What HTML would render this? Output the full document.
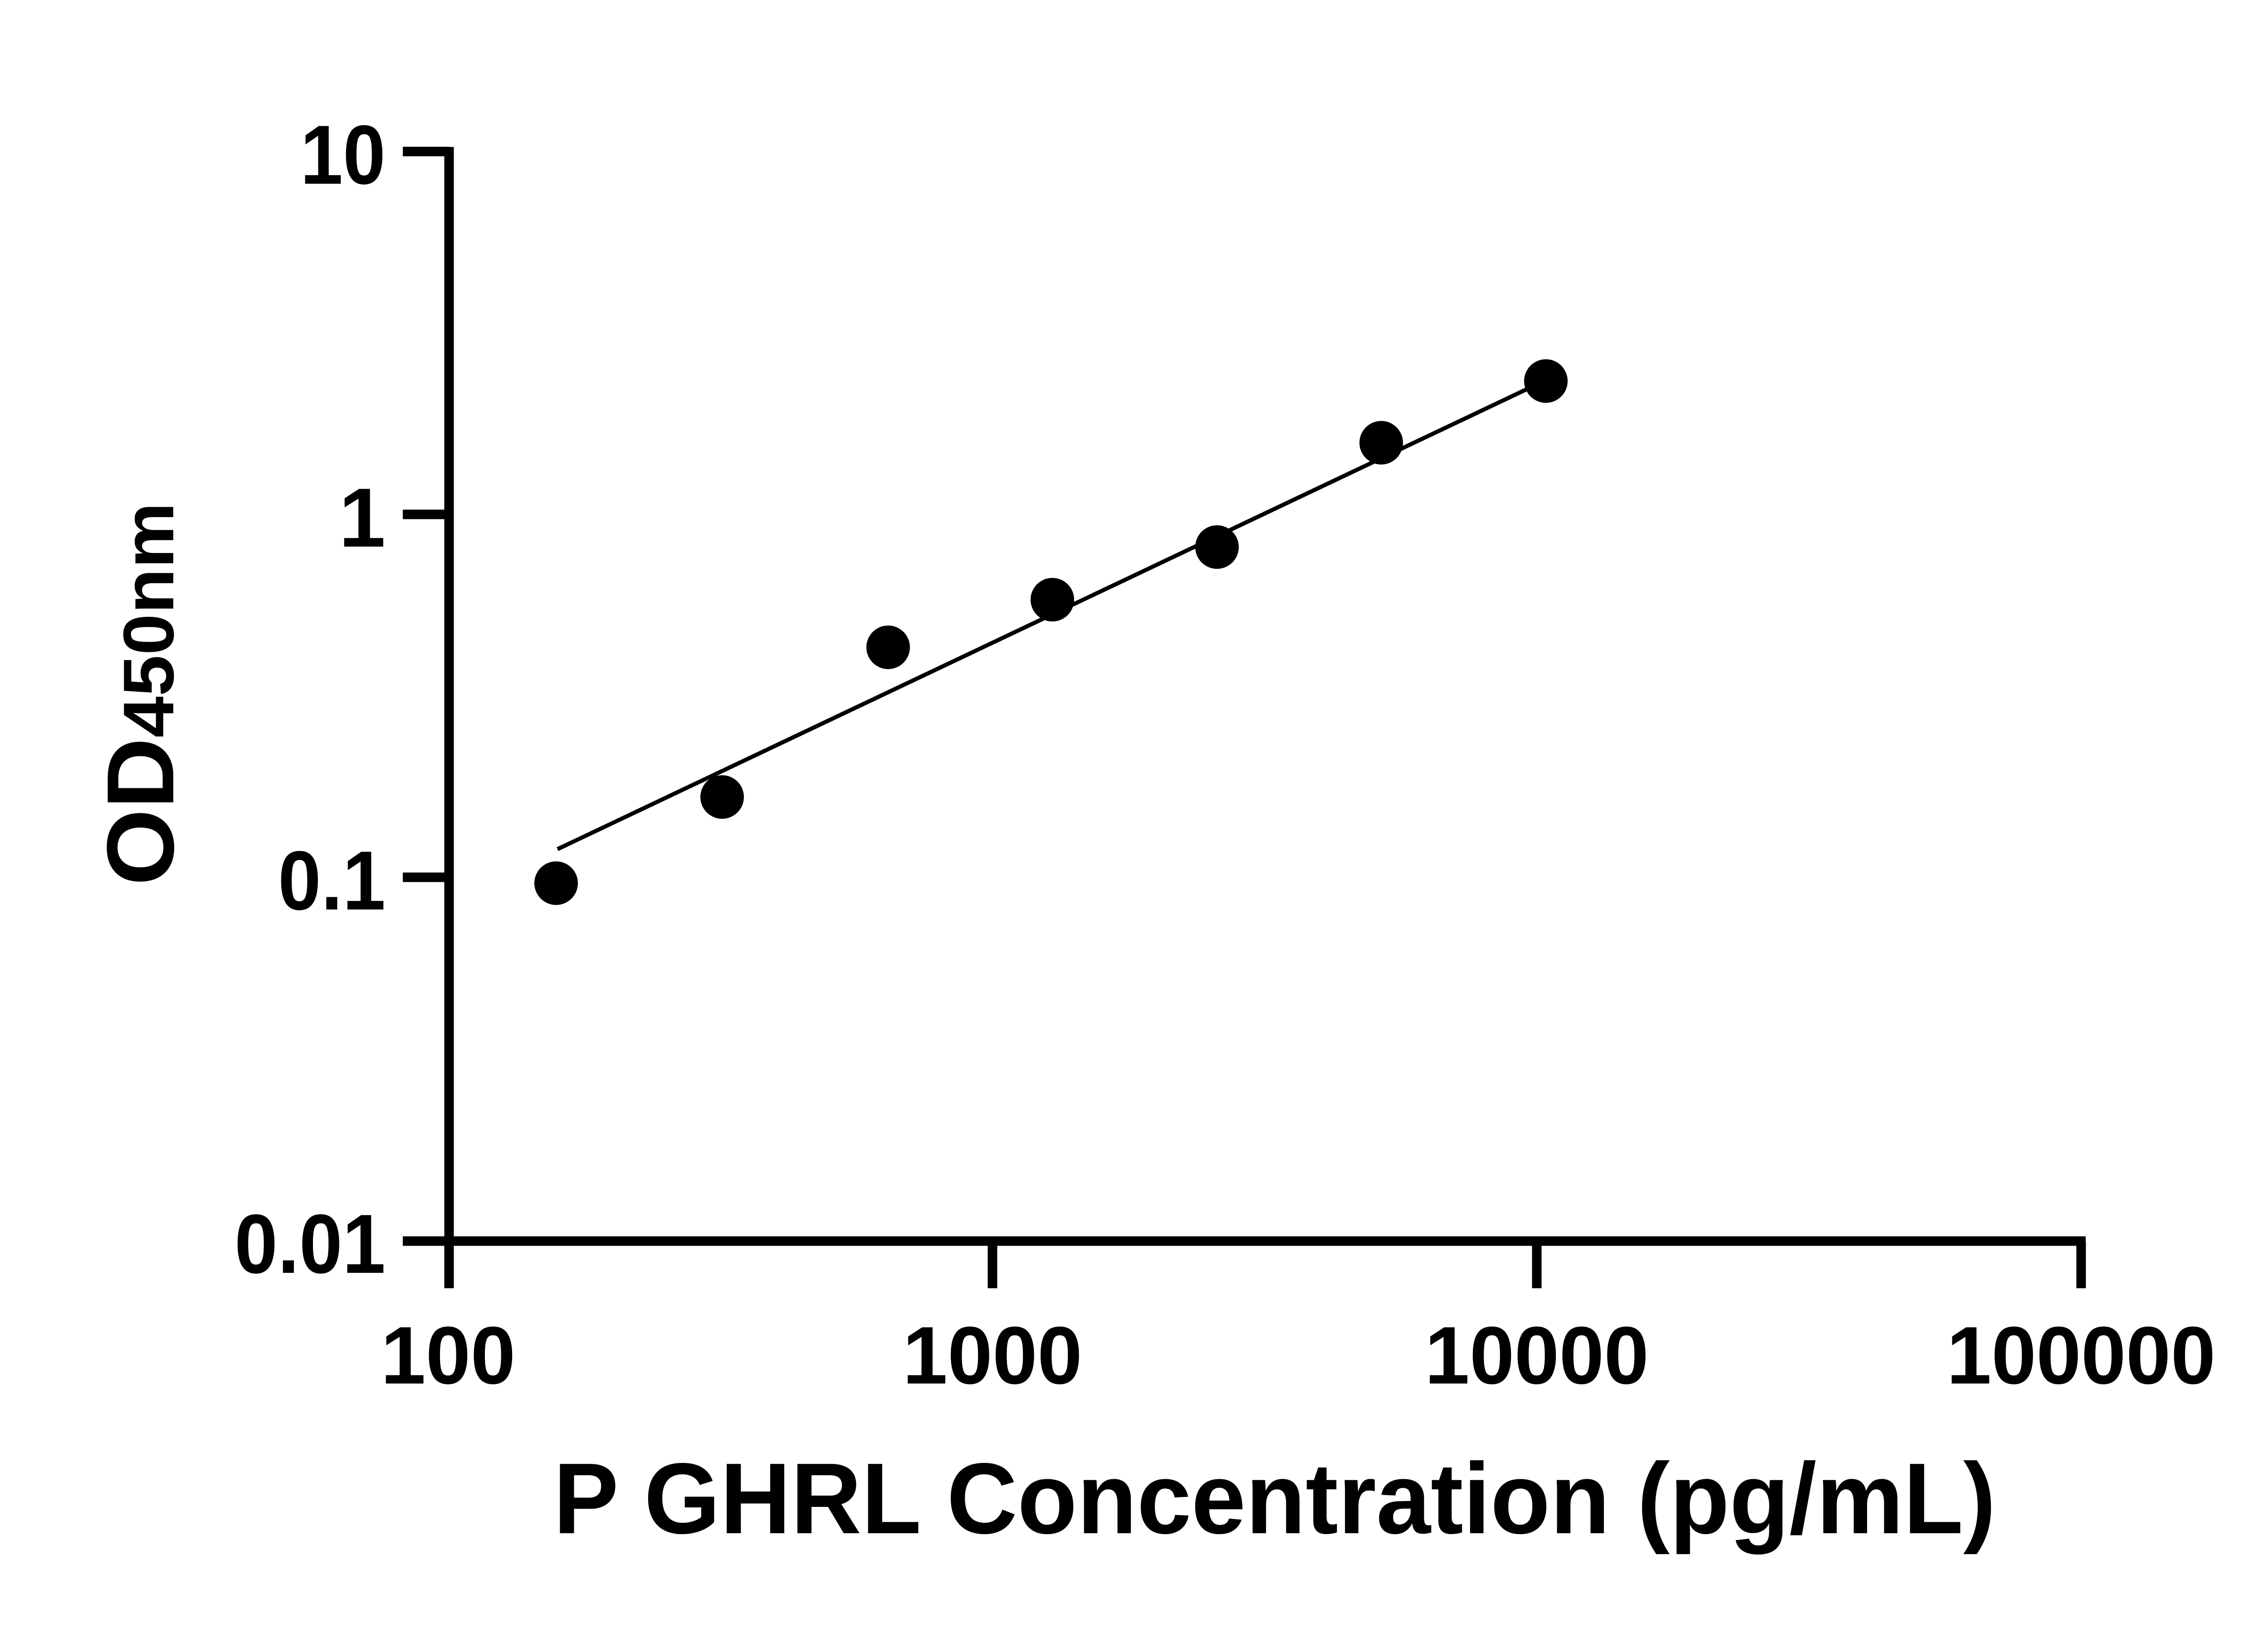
<!DOCTYPE html>
<html><head><style>html,body{margin:0;padding:0;background:#fff}svg{display:block}</style></head>
<body>
<svg width="5142" height="3600" viewBox="0 0 5142 3600" xmlns="http://www.w3.org/2000/svg">
<rect width="5142" height="3600" fill="#fff"/>
<g stroke="#000" stroke-width="21" fill="none">
<line x1="990" y1="324" x2="990" y2="2840"/>
<line x1="980" y1="2736" x2="4598" y2="2736"/>
<line x1="888" y1="334" x2="990" y2="334"/>
<line x1="888" y1="1134" x2="990" y2="1134"/>
<line x1="888" y1="1934" x2="990" y2="1934"/>
<line x1="888" y1="2736" x2="990" y2="2736"/>
<line x1="2188" y1="2736" x2="2188" y2="2840"/>
<line x1="3388" y1="2736" x2="3388" y2="2840"/>
<line x1="4588" y1="2736" x2="4588" y2="2840"/>
</g>
<line x1="1229" y1="1872" x2="3368" y2="857" stroke="#000" stroke-width="9"/>
<g fill="#000">
<circle cx="1226" cy="1947" r="48"/>
<circle cx="1592" cy="1757" r="48"/>
<circle cx="1958" cy="1427" r="48"/>
<circle cx="2320" cy="1322" r="48"/>
<circle cx="2683" cy="1206" r="48"/>
<circle cx="3045" cy="976" r="48"/>
<circle cx="3408" cy="840" r="48"/>
</g>
<g font-family="Liberation Sans, sans-serif" font-weight="bold" font-size="185" fill="#000" text-anchor="end">
<text x="850" y="405" textLength="188" lengthAdjust="spacingAndGlyphs">10</text>
<text x="850" y="1205">1</text>
<text x="850" y="2005" textLength="237" lengthAdjust="spacingAndGlyphs">0.1</text>
<text x="850" y="2806" textLength="333" lengthAdjust="spacingAndGlyphs">0.01</text>
</g>
<g font-family="Liberation Sans, sans-serif" font-weight="bold" font-size="180" fill="#000" text-anchor="middle">
<text x="988" y="3050" textLength="297" lengthAdjust="spacingAndGlyphs">100</text>
<text x="2188" y="3050" textLength="396" lengthAdjust="spacingAndGlyphs">1000</text>
<text x="3388" y="3050" textLength="494" lengthAdjust="spacingAndGlyphs">10000</text>
<text x="4588" y="3050" textLength="593" lengthAdjust="spacingAndGlyphs">100000</text>
</g>
<text x="2810" y="3380" font-family="Liberation Sans, sans-serif" font-weight="bold" font-size="222" text-anchor="middle" textLength="3180" lengthAdjust="spacingAndGlyphs">P GHRL Concentration (pg/mL)</text>
<text transform="translate(382,1530) rotate(-90)" font-family="Liberation Sans, sans-serif" font-weight="bold" font-size="210" text-anchor="middle" textLength="845" lengthAdjust="spacingAndGlyphs">OD<tspan font-size="158">450nm</tspan></text>
</svg>
</body></html>
